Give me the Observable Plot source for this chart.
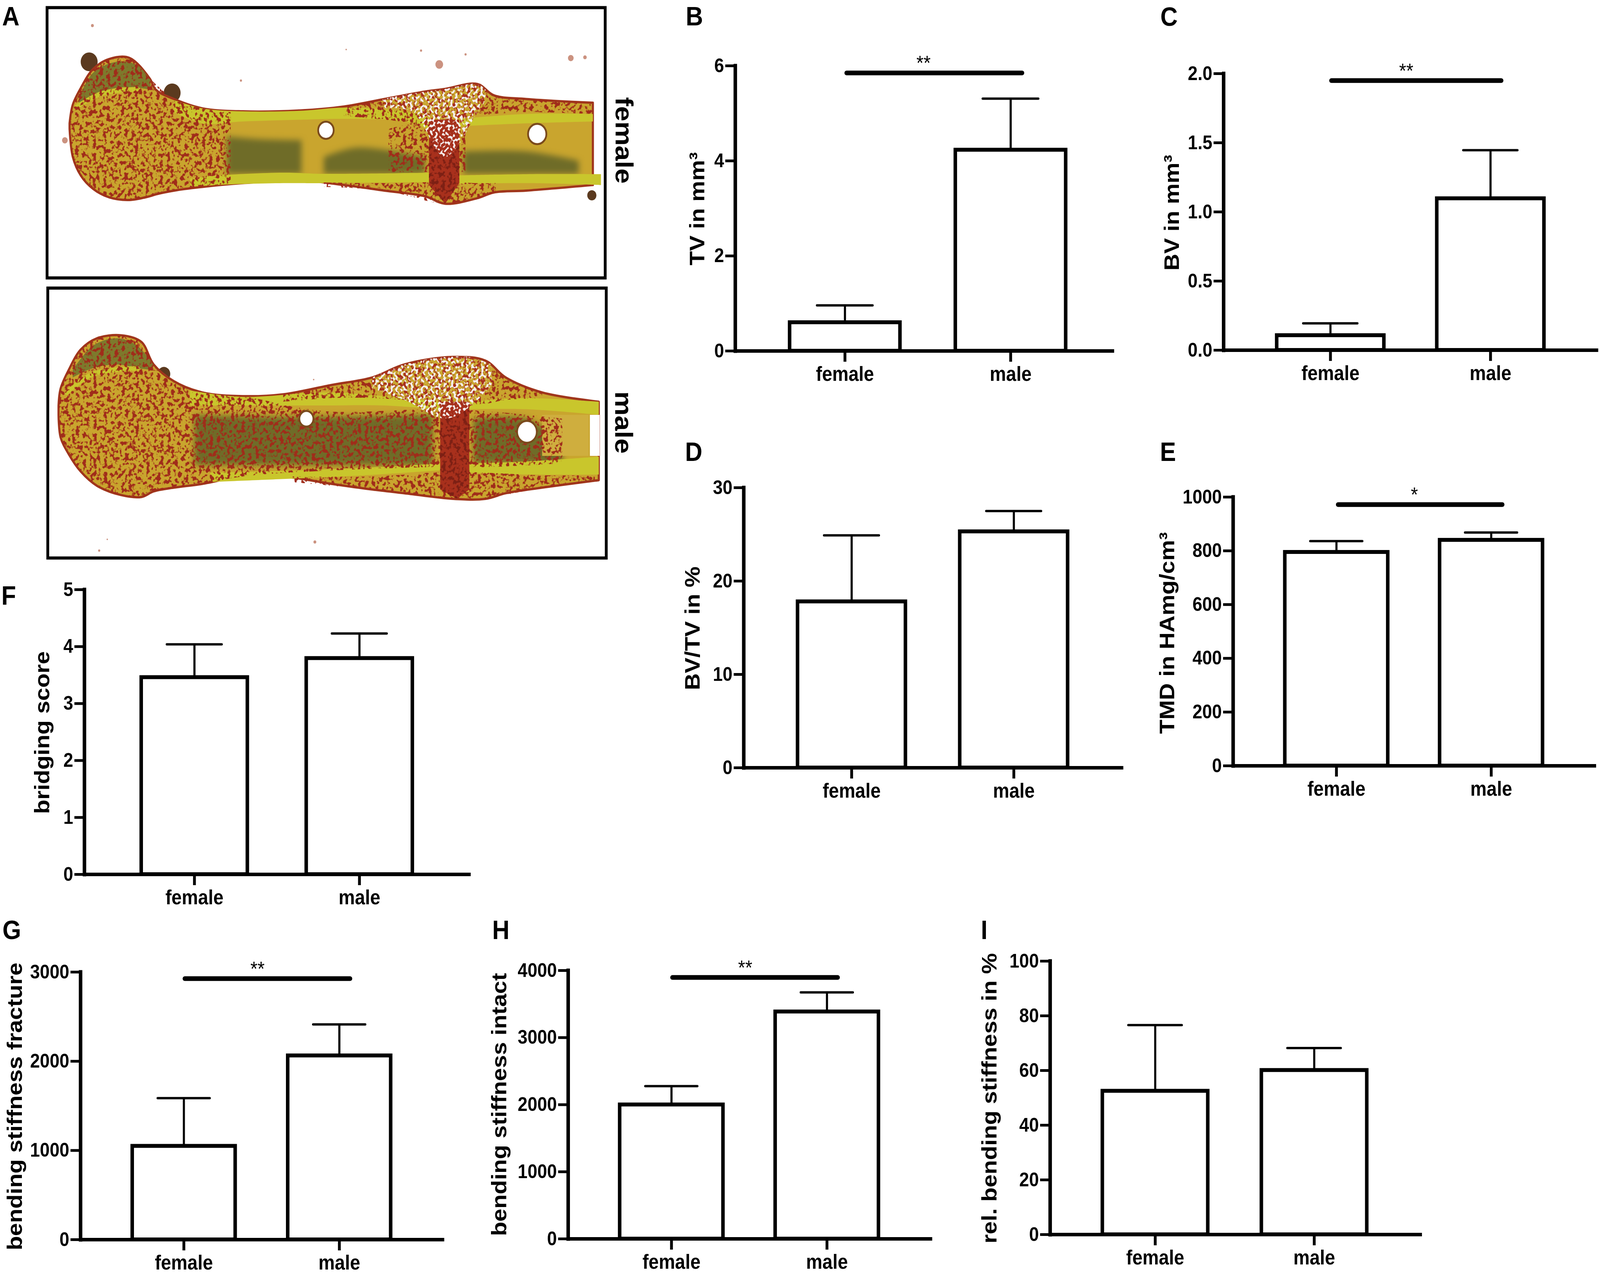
<!DOCTYPE html>
<html>
<head>
<meta charset="utf-8">
<script src="https://cdn.jsdelivr.net/npm/d3@7"></script>
<script src="https://cdn.jsdelivr.net/npm/@observablehq/plot@0.6"></script>
<style>
  html, body { margin: 0; background: white; overflow: hidden; }
  #page { position: relative; width: 4538px; height: 3264px; background: white; overflow: hidden; font-family: "Liberation Sans", Arial, sans-serif; color: black; transform-origin: 0 0; }
  #page > svg { position: absolute; }
  .letter { position: absolute; font-size: 68px; line-height: 1; font-weight: bold; }
</style>
</head>
<body>
<svg width="0" height="0" style="position:absolute">
  <filter id="veins" x="-5%" y="-5%" width="110%" height="110%" color-interpolation-filters="sRGB">
    <feTurbulence type="fractalNoise" baseFrequency="0.1" numOctaves="2" seed="4" result="n"/>
    <feColorMatrix in="n" type="matrix" values="0 0 0 0 0  0 0 0 0 0  0 0 0 0 0  9 0 0 0 -4.5" result="a"/>
    <feComposite in="SourceGraphic" in2="a" operator="in"/>
  </filter>
  <filter id="speck" x="-5%" y="-5%" width="110%" height="110%" color-interpolation-filters="sRGB">
    <feTurbulence type="fractalNoise" baseFrequency="0.14" numOctaves="1" seed="9" result="n"/>
    <feColorMatrix in="n" type="matrix" values="0 0 0 0 0  0 0 0 0 0  0 0 0 0 0  12 0 0 0 -6.2" result="a"/>
    <feComposite in="SourceGraphic" in2="a" operator="in"/>
  </filter>
</svg>
<div id="page"></div>
<script>
const sexes = ["female", "male"]

// bars: mean and top of the error bar
const tvMean = [0.6, 4.23],        tvTop = [0.96, 5.31]
const bvMean = [0.107, 1.097],     bvTop = [0.194, 1.446]
const bvtvMean = [17.8, 25.3],     bvtvTop = [24.9, 27.5]
const tmdMean = [795, 840],        tmdTop = [836, 868]
const bridgeMean = [3.46, 3.795],  bridgeTop = [4.04, 4.23]
const fracMean = [1049, 2063],     fracTop = [1586, 2413]
const intactMean = [2000, 3386],   intactTop = [2277, 3674]
const relMean = [52.5, 60.1],      relTop = [76.6, 68.2]

const tvTicks = [0, 2, 4, 6]
const bvTicks = [0, 0.5, 1, 1.5, 2]
const bvtvTicks = [0, 10, 20, 30]
const tmdTicks = [0, 200, 400, 600, 800, 1000]
const bridgeTicks = [0, 1, 2, 3, 4, 5]
const fracTicks = [0, 1000, 2000, 3000]
const intactTicks = [0, 1000, 2000, 3000, 4000]
const relTicks = [0, 20, 40, 60, 80, 100]

// bone outlines of panel A, [x, top, bottom]
const femaleOutline = [[172,330,345],[180,280,420],[200,235,470],[230,185,505],[270,158,528],[320,155,535],[370,210,525],[385,240,520],[430,265,510],[500,290,500],[600,298,490],[750,295,483],[850,285,495],[950,265,510],[1050,245,525],[1100,238,545],[1180,225,530],[1220,255,515],[1300,265,510],[1465,275,495]]
const femaleCap = [[195,262,285],[230,195,255],[290,165,235],[340,175,235],[372,215,240]]
const femaleCortexA = [[430,268,300],[500,290,330],[600,298,325],[750,296,320],[850,288,318],[1000,298,325],[1060,315,345]]
const femaleCortexB = [[1135,318,338],[1300,305,330],[1465,305,325]]
const femaleCortexC = [[470,478,500],[535,470,495],[700,462,490],[800,465,490],[1070,462,487]]
const femaleCortexD = [[1105,470,492],[1300,466,490],[1485,466,495]]
const femaleOliveA = [[560,365,465],[640,372,465],[745,375,465]]
const femaleOliveB = [[800,420,465],[880,395,465],[1050,420,465]]
const femaleOliveC = [[1145,405,465],[1300,405,465],[1430,430,465]]
const femaleVeinsA = [[172,330,345],[180,280,420],[200,235,470],[230,185,505],[270,158,528],[320,155,535],[370,210,525],[430,265,510],[500,290,500],[570,300,490]]
const femaleVeinsB = [[850,285,310],[950,265,320],[1060,245,330],[1180,225,310],[1220,255,305],[1300,265,300],[1465,275,305]]
const femaleVeinsC = [[800,488,500],[950,490,510],[1100,487,545],[1180,490,530],[1225,490,515]]
const femaleVeinsD = [[960,345,460],[1050,325,460],[1150,340,460]]
const femaleBreak = [[1060,320,495],[1100,320,545],[1135,320,490]]
const femaleSpeck = [[945,265,290],[1020,250,300],[1100,238,420],[1180,225,300],[1200,240,270]]
const femaleGrowth = [[190,285],[250,250],[340,238]]
const femaleHoleX = [805, 1327], femaleHoleY = [348, 358], femaleHoleR = [22, 26]
const femaleChipX = [220, 425, 1462], femaleChipY = [165, 248, 522], femaleChipR = [24, 24, 13]
const femaleDebrisX = [228, 160, 1085, 1410, 1445, 1040, 1150, 595, 855], femaleDebrisY = [68, 375, 172, 155, 153, 135, 145, 215, 132], femaleDebrisR = [4, 8, 11, 8, 5, 3, 3, 3, 2]

const maleOutline = [[145,1085,1110],[150,1040,1170],[170,990,1215],[200,935,1262],[240,905,1300],[300,897,1325],[350,915,1330],[380,975,1315],[430,1020,1305],[500,1050,1295],[600,1060,1275],[700,1055,1275],[820,1030,1295],[920,1010,1310],[1000,975,1320],[1120,955,1335],[1200,965,1335],[1250,1010,1320],[1340,1050,1305],[1480,1075,1285]]
const maleCap = [[180,990,1010],[230,925,985],[290,905,975],[340,925,985],[378,975,990]]
const maleCortexA = [[470,1045,1085],[600,1062,1085],[800,1050,1085],[950,1060,1085],[1085,1075,1095]]
const maleCortexB = [[1160,1075,1095],[1300,1065,1095],[1480,1075,1110]]
const maleCortexC = [[520,1265,1290],[700,1260,1282],[900,1252,1272],[1095,1240,1258]]
const maleCortexD = [[1160,1240,1265],[1300,1235,1270],[1480,1222,1270]]
const maleOliveA = [[480,1110,1245],[750,1115,1245],[1070,1110,1245]]
const maleOliveB = [[1170,1120,1240],[1300,1120,1240],[1390,1180,1240]]
const maleGold = [[1340,1110,1220],[1455,1110,1220]]
const maleVeinsA = [[145,1085,1110],[150,1040,1170],[170,990,1215],[200,935,1262],[240,905,1300],[300,897,1325],[350,915,1330],[380,975,1315],[430,1020,1305],[500,1050,1295],[600,1060,1275],[800,1100,1260],[1070,1095,1250],[1200,1100,1250],[1390,1120,1240]]
const maleVeinsB = [[700,1056,1075],[820,1030,1065],[920,1010,1065],[1000,975,1070],[1120,955,1080],[1200,965,1080],[1250,1010,1070],[1340,1050,1065]]
const maleVeinsC = [[720,1275,1290],[920,1275,1310],[1120,1262,1335],[1200,1265,1335],[1340,1272,1305],[1470,1272,1290]]
const maleBreak = [[1088,1075,1310],[1130,1075,1335],[1160,1075,1310]]
const maleSpeck = [[920,1010,1040],[1000,975,1070],[1100,955,1120],[1160,955,1090],[1215,975,1030]]
const maleGrowth = [[165,1050],[230,1000],[340,985]]
const maleHoleX = [757, 1302], maleHoleY = [1120, 1155], maleHoleR = [20, 28]
const maleNotch = [[1458,1110,1220],[1482,1110,1220]]
const maleChipX = [405], maleChipY = [1000], maleChipR = [18]
const maleDebrisX = [778, 245, 265, 775], maleDebrisY = [1450, 1473, 1443, 1015], maleDebrisR = [4, 3, 2, 2]

// where each panel sits on the page
const panels = [
  {mean: tvMean, top: tvTop, ticks: tvTicks, yMax: 6, title: "TV in mm³", spine: 2085, yTop: 168, y0: 898, xEnd: 3155, c: [2396, 2866], barW: 313, capW: 158, titleX: 1978, titleY: 534, titleLen: 290, bracket: 5.85, stars: "**", starX: 2619, brX: [2401, 2899]},
  {mean: bvMean, top: bvTop, ticks: bvTicks, yMax: 2, format: d3.format(".1f"), title: "BV in mm³", spine: 3470, yTop: 188, y0: 896, xEnd: 4528, c: [3773, 4227], barW: 304, capW: 154, titleX: 3324, titleY: 544, titleLen: 281, bracket: 1.95, stars: "**", starX: 3988, brX: [3776, 4258]},
  {mean: bvtvMean, top: bvtvTop, ticks: bvtvTicks, yMax: 30, title: "BV/TV in %", spine: 2109, yTop: 1248, y0: 1965, xEnd: 3181, c: [2415, 2875], barW: 306, capW: 156, titleX: 1965, titleY: 1608, titleLen: 297},
  {mean: tmdMean, top: tmdTop, ticks: tmdTicks, yMax: 1000, title: "TMD in HAmg/cm³", spine: 3497, yTop: 1272, y0: 1960, xEnd: 4522, c: [3790, 4229], barW: 292, capW: 148, titleX: 3311, titleY: 1620, titleLen: 478, bracket: 972, stars: "*", starX: 4011, brX: [3795, 4261]},
  {mean: bridgeMean, top: bridgeTop, ticks: bridgeTicks, yMax: 5, title: "bridging score", spine: 239, yTop: 1509, y0: 2238, xEnd: 1330, c: [551, 1019], barW: 301, capW: 156, titleX: 120, titleY: 1875, titleLen: 402},
  {mean: fracMean, top: fracTop, ticks: fracTicks, yMax: 3000, title: "bending stiffness fracture", spine: 228, yTop: 2488, y0: 3173, xEnd: 1255, c: [521, 962], barW: 292, capW: 148, titleX: 42, titleY: 2832, titleLen: 670, bracket: 2927, stars: "**", starX: 730, brX: [524, 993]},
  {mean: intactMean, top: intactTop, ticks: intactTicks, yMax: 4000, title: "bending stiffness intact", spine: 1611, yTop: 2484, y0: 3171, xEnd: 2639, c: [1904, 2345], barW: 293, capW: 148, titleX: 1416, titleY: 2827, titleLen: 614, bracket: 3896, stars: "**", starX: 2113, brX: [1907, 2376]},
  {mean: relMean, top: relTop, ticks: relTicks, yMax: 100, title: "rel. bending stiffness in %", spine: 2978, yTop: 2460, y0: 3160, xEnd: 4028, c: [3276, 3727], barW: 299, capW: 152, titleX: 2807, titleY: 2811, titleLen: 694}
]

const letters = [["A",6,65],["B",1945,65],["C",3291,66],["D",1943,1180],["E",3290,1180],["F",4,1548],["G",7,2404],["H",1396,2404],["I",2782,2404]]

const page = d3.select("#page")
// the window can be narrower than the figure, so fit the figure into it
page.style("transform", `scale(${Math.min(1, innerWidth / 4538)}, ${Math.min(1, innerHeight / 3264)})`)

function place(svg, left, top) {
  d3.select(svg).style("left", left + "px").style("top", top + "px")
  page.append(() => svg)
}

function barPanel(p) {
  const left = Math.max(0, p.titleX - 50)
  const marginLeft = p.spine - left
  const marginTop = 70, marginBottom = 110, marginRight = 10
  const rows = sexes.map((sex, i) => ({sex, mean: p.mean[i], top: p.top[i]}))
  const step = p.c[1] - p.c[0]
  const pad = 1 - p.barW / step
  const bandL = p.c[0] - p.barW / 2, bandR = p.c[1] + p.barW / 2
  const capInset = (p.barW - p.capW) / 2

  const marks = [
    Plot.ruleX(rows, {x: "sex", y1: "mean", y2: "top", strokeWidth: 6}),
    Plot.ruleY(rows, {y: "top", x1: "sex", x2: "sex", insetLeft: capInset, insetRight: capInset, strokeWidth: 6, strokeLinecap: "round"}),
    Plot.barY(rows, {x: "sex", y: "mean", fill: "white", stroke: "black", strokeWidth: 10}),
    Plot.axisY({ticks: p.ticks, tickFormat: p.format || (d => String(d)), tickSize: 28, tickPadding: 4, strokeWidth: 7, fontSize: 50, fontWeight: "bold", label: null}),
    Plot.axisX({tickSize: 28, tickPadding: 12, strokeWidth: 8, fontSize: 52, fontWeight: "bold", label: null}),
    Plot.frame({anchor: "left", stroke: "black", strokeWidth: 10, strokeLinecap: "square"}),
    Plot.frame({anchor: "bottom", stroke: "black", strokeWidth: 9}),
    Plot.text([p.title], {frameAnchor: "top-left", text: d => d, rotate: -90, dx: p.titleX - p.spine, dy: p.titleY - p.yTop, fontSize: 60, fontWeight: "bold", textAnchor: "middle", lineAnchor: "middle", ariaLabel: "axis title"})
  ]
  if (p.bracket !== undefined) {
    marks.push(
      Plot.ruleY([p.bracket], {x1: () => sexes[0], x2: () => sexes[1], insetLeft: p.brX[0] - bandL, insetRight: bandR - p.brX[1], strokeWidth: 12, strokeLinecap: "round"}),
      Plot.text([p.bracket], {x: () => sexes[0], y: d => d, text: () => p.stars, dx: p.starX - p.c[0], dy: -24, fontSize: 52})
    )
  }

  const chart = Plot.plot({
    width: marginLeft + (p.xEnd - p.spine) + marginRight,
    height: marginTop + (p.y0 - p.yTop) + marginBottom,
    marginLeft, marginTop, marginBottom, marginRight,
    x: {type: "band", axis: null, domain: sexes, round: false,
        range: [marginLeft + p.c[0] - step / 2 - p.spine, marginLeft + p.c[1] + step / 2 - p.spine],
        paddingInner: pad, paddingOuter: pad / 2},
    y: {axis: null, domain: [0, p.yMax]},
    style: {fontFamily: "Liberation Sans", background: "transparent", color: "black", overflow: "visible"},
    marks
  })
  d3.select(chart).selectAll('g[aria-label="axis title"] text').each(function () {
    const label = d3.select(this)
    const parts = p.title.split("³")
    label.text(parts[0])
    if (parts.length > 1) label.append("tspan").attr("dy", "-0.4em").attr("font-size", "0.72em").text("3")
    label.attr("textLength", p.titleLen).attr("lengthAdjust", "spacingAndGlyphs")
  })
  place(chart, left, p.yTop - marginTop)
}

panels.forEach(barPanel)

// Panel A
const patch = (rows, fill, extra = {}) => Plot.areaY(rows, {x: d => d[0], y1: d => d[1], y2: d => d[2], fill, curve: "catmull-rom", ...extra})
const veined = {imageFilter: "url(#veins)"}
const speckled = {imageFilter: "url(#speck)"}
const spots = (X, Y, R, opts) => Plot.dot(X, {x: (d, i) => X[i], y: (d, i) => Y[i], r: (d, i) => R[i], ...opts})

function bonePanel(b) {
  const mt = 7, mb = 7, ml = 20, mr = 100
  const marks = [
    spots(b.chipX, b.chipY, b.chipR, {fill: "#5b3a1f"}),
    spots(b.debrisX, b.debrisY, b.debrisR, {fill: "#a84a2c", fillOpacity: 0.6}),
    patch(b.outline, "#c9a52e", {stroke: "#a0361c", strokeWidth: 6}),
    patch(b.cap, "#7d7a2c"),
    ...b.olive.map(r => patch(r, "#6f6c28", {imageFilter: "blur(8px)"})),
    ...b.gold.map(r => patch(r, "#cfae3e")),
    ...b.cortex.map(r => patch(r, "#c9c62c")),
    Plot.line(b.growth, {x: d => d[0], y: d => d[1], stroke: "#c9c62c", strokeWidth: 12, curve: "catmull-rom"}),
    ...b.veins.map(r => patch(r, "#a02c1a", veined)),
    patch(b.crack, "#a8301c", {curve: "linear"}),
    patch(b.crack, "#7d2014", {curve: "linear", ...veined}),
    patch(b.speck, "#a8301c", veined),
    patch(b.speck, "#f4eeee", speckled),
    spots(b.holeX, b.holeY, b.holeR, {fill: "white", stroke: "#7a4a1c", strokeWidth: 5}),
    ...(b.notch ? [patch(b.notch, "white", {curve: "linear"})] : []),
    Plot.frame({stroke: "black", strokeWidth: 8}),
    Plot.text([b.label], {x: () => 1540, y: () => b.labelY, text: d => d, rotate: 90, fontSize: 70, fontWeight: "bold", ariaLabel: "bone label"})
  ]
  const chart = Plot.plot({
    width: b.right - b.left + ml + mr,
    height: b.bottom - b.top + mt + mb,
    marginTop: mt, marginBottom: mb, marginLeft: ml, marginRight: mr,
    x: {axis: null, domain: b.xDomain},
    y: {axis: null, domain: b.yDomain},
    r: {type: "identity"},
    style: {fontFamily: "Liberation Sans", background: "transparent", color: "black", overflow: "visible"},
    marks
  })
  place(chart, b.left - ml, b.top - mt)
}

bonePanel({
  label: "female", labelY: 375, left: 133, right: 1716, top: 19, bottom: 711,
  xDomain: [116, 1495], yDomain: [743, 20],
  outline: femaleOutline, cap: femaleCap, growth: femaleGrowth,
  cortex: [femaleCortexA, femaleCortexB, femaleCortexC, femaleCortexD],
  olive: [femaleOliveA, femaleOliveB, femaleOliveC], gold: [],
  veins: [femaleVeinsA, femaleVeinsB, femaleVeinsC, femaleVeinsD],
  crack: femaleBreak, speck: femaleSpeck,
  holeX: femaleHoleX, holeY: femaleHoleY, holeR: femaleHoleR,
  chipX: femaleChipX, chipY: femaleChipY, chipR: femaleChipR,
  debrisX: femaleDebrisX, debrisY: femaleDebrisY, debrisR: femaleDebrisR
})
bonePanel({
  label: "male", labelY: 1130, left: 135, right: 1719, top: 737, bottom: 1428,
  xDomain: [118, 1498], yDomain: [1493, 770],
  outline: maleOutline, cap: maleCap, growth: maleGrowth,
  cortex: [maleCortexA, maleCortexB, maleCortexC, maleCortexD],
  olive: [maleOliveA, maleOliveB], gold: [maleGold],
  veins: [maleVeinsA, maleVeinsB, maleVeinsC],
  crack: maleBreak, speck: maleSpeck, notch: maleNotch,
  holeX: maleHoleX, holeY: maleHoleY, holeR: maleHoleR,
  chipX: maleChipX, chipY: maleChipY, chipR: maleChipR,
  debrisX: maleDebrisX, debrisY: maleDebrisY, debrisR: maleDebrisR
})

// panel letters
letters.forEach(([t, x, baseline]) => {
  page.append("div").attr("class", "letter").text(t)
    .style("left", x + "px").style("top", (baseline - 58) + "px")
})
</script>
</body>
</html>
